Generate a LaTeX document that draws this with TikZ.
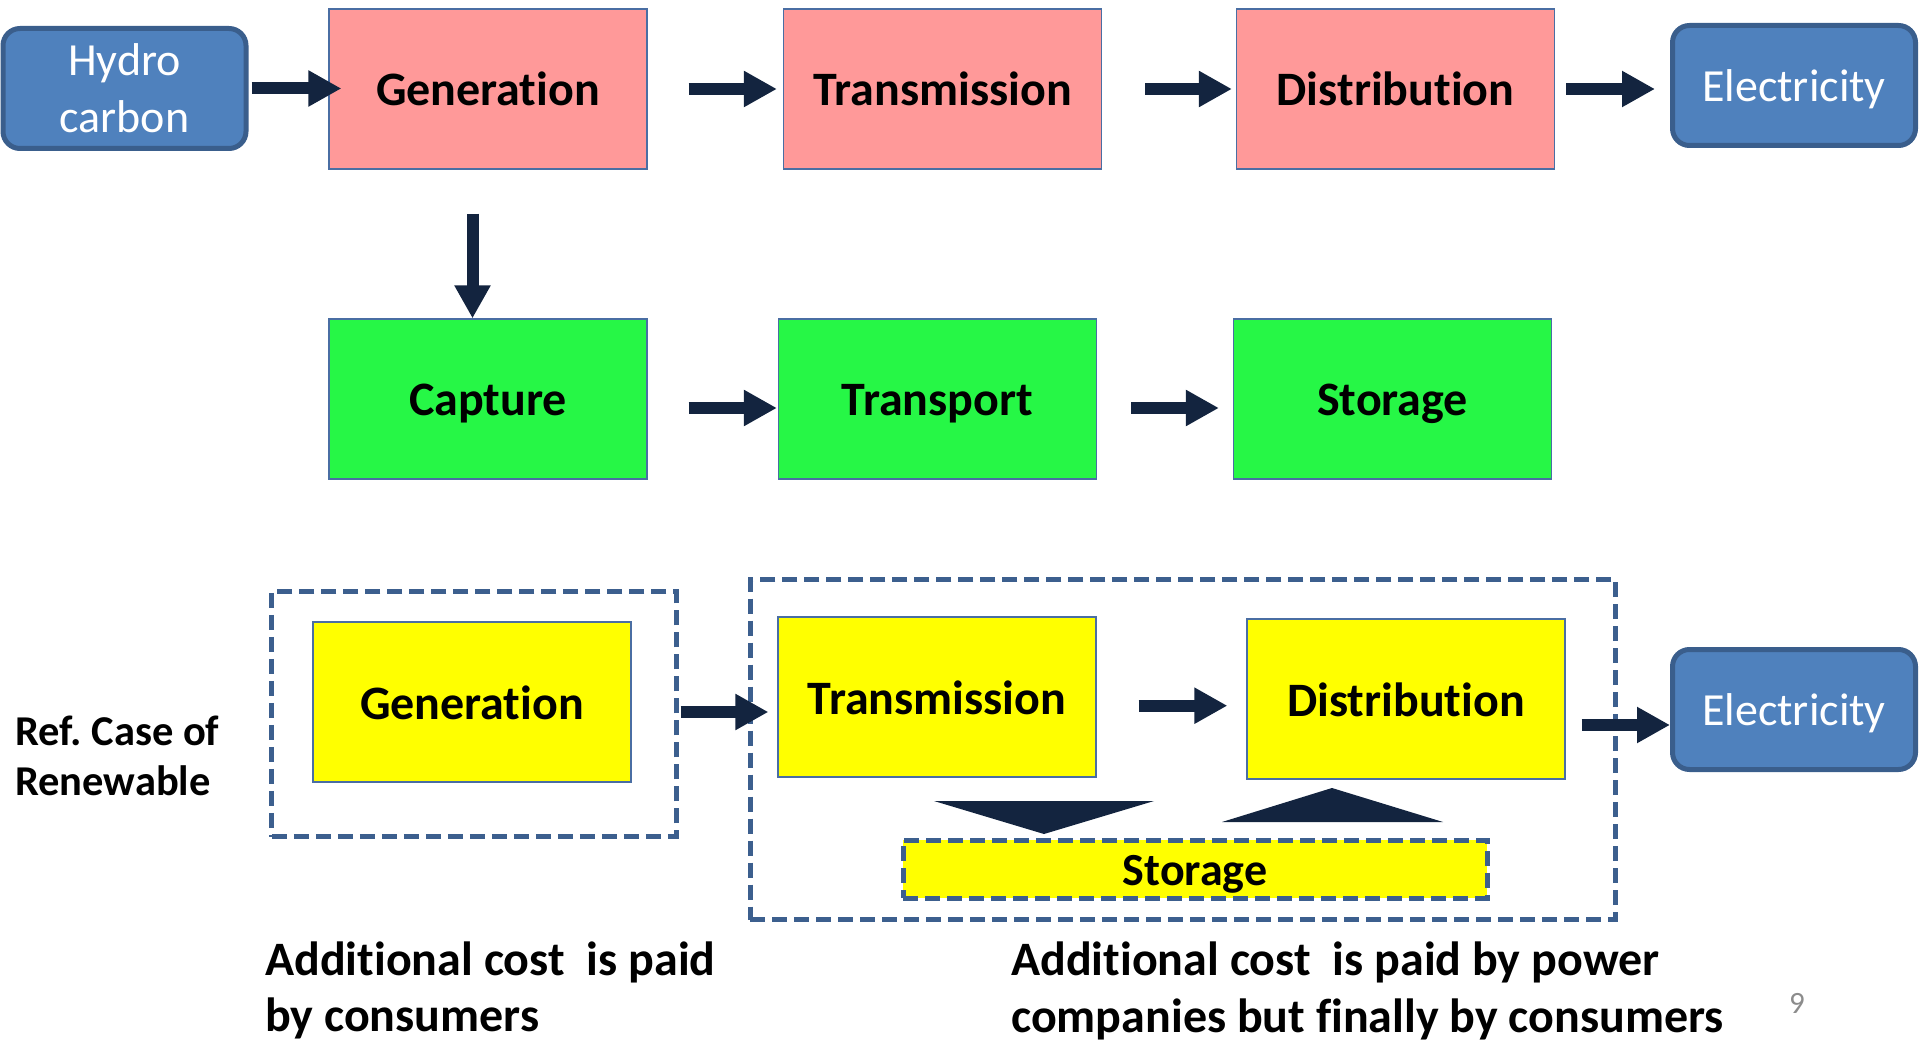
\documentclass[tikz,border=0pt]{standalone}
\usepackage{fontspec}
\setmainfont{Carlito}[Ligatures=NoCommon]
\usetikzlibrary{arrows.meta}
\definecolor{navy}{HTML}{13243F}
\definecolor{pinkf}{HTML}{FF9999}
\definecolor{greenf}{HTML}{26F746}
\definecolor{yel}{HTML}{FFFF00}
\definecolor{bluef}{HTML}{4F81BD}
\definecolor{blued}{HTML}{3A5E8C}
\definecolor{edgeblue}{HTML}{4A6EA3}
\definecolor{dashblue}{HTML}{3C5F8E}
\definecolor{pagegray}{HTML}{8C8C8C}
\frenchspacing
\begin{document}
\begin{tikzpicture}[x=1pt,y=-1pt,
  stage/.style={draw=edgeblue, line width=1.2pt, minimum width=318pt, minimum height=160pt, inner sep=0pt, text height=46pt, text depth=12pt, font=\fontsize{48}{58}\selectfont\bfseries},
  endbox/.style={draw=blued, fill=bluef, line width=5pt, rounded corners=17pt, text=white, minimum width=243pt, minimum height=120pt, inner sep=0pt, align=center, font=\fontsize{46}{57}\selectfont},
  elecbox/.style={endbox, text height=45pt, text depth=13pt},
  blk/.style={draw=navy, line width=12pt, -{Triangle[length=33pt,width=34pt]}},
  grp/.style={draw=dashblue, line width=5pt, dash pattern=on 15pt off 7pt, inner sep=0pt},
  lbl/.style={anchor=base west, inner sep=0pt, font=\fontsize{48}{58}\selectfont\bfseries},
  side/.style={anchor=base west, inner sep=0pt, font=\fontsize{42.5}{52}\selectfont\bfseries}]
\useasboundingbox (0,0) rectangle (1920,1040);

% top row
\node[endbox] (hc) at (124.5,88.5) {Hydro\\carbon};
\node[stage, fill=pinkf] (g1) at (488,89) {Generation};
\node[stage, fill=pinkf] (t1) at (942.5,89) {Transmission};
\node[stage, fill=pinkf] (d1) at (1395.5,89) {Distribution};
\node[elecbox] (e1) at (1794,85.5) {Electricity};

% second row
\node[stage, fill=greenf] (c2) at (488,399) {Capture};
\node[stage, fill=greenf] (t2) at (937.5,399) {Transport};
\node[stage, fill=greenf] (s2) at (1392.5,399) {Storage};

% third row groups
\node[grp, minimum width=404.5pt, minimum height=245.5pt] (grp1) at (474,714) {};
\node[grp, minimum width=865.5pt, minimum height=340pt] (grp2) at (1183,749.5) {};

\node[stage, fill=yel] (g3) at (472,702) {Generation};
\node[stage, fill=yel] (t3) at (937,697) {Transmission};
\node[stage, fill=yel] (d3) at (1406,699) {Distribution};
\node[elecbox] (e3) at (1794,709.5) {Electricity};
\node[grp, fill=yel, minimum width=584pt, minimum height=58pt, text height=44pt, text depth=12pt, font=\fontsize{46}{56}\selectfont\bfseries] (sb) at (1195,869) {Storage};

% storage triangles
\fill[navy] (934,801) -- (1154,801) -- (1044,834) -- cycle;
\fill[navy] (1222,822) -- (1443,822) -- (1332,788) -- cycle;

% arrows row 1
\draw[blk] ([xshift=3pt]hc.east) -- ([xshift=13pt]hc.east -| g1.west);
\draw[blk] ([xshift=41pt]g1.east) -- ([xshift=-6pt]t1.west);
\draw[blk] ([xshift=43pt]t1.east) -- ([xshift=-4pt]d1.west);
\draw[blk] ([xshift=11pt]d1.east) -- ([xshift=-15pt]d1.east -| e1.west);
\draw[blk] ([xshift=-15.5pt,yshift=-44pt]g1.south) -- ([xshift=-15.5pt]c2.north);

% arrows row 2
\draw[blk] ([xshift=41pt,yshift=-9pt]c2.east) -- ([xshift=-1pt,yshift=-9pt]t2.west);
\draw[blk] ([xshift=34pt,yshift=-9pt]t2.east) -- ([xshift=-14pt,yshift=-9pt]s2.west);

% arrows row 3
\draw[blk] ([xshift=49pt,yshift=-10pt]g3.east) -- ([xshift=-9pt,yshift=-10pt]g3.east -| t3.west);
\draw[blk] ([xshift=42pt,yshift=-8.7pt]t3.east) -- ([xshift=-19pt,yshift=-8.7pt]t3.east -| d3.west);
\draw[blk] ([xshift=16pt,yshift=-26pt]d3.east) -- ([yshift=-26pt]d3.east -| e3.west);

% free text
\node[side] (rc1) at (15,745) {Ref. Case of};
\node[side] (rc2) at (15,795) {Renewable};
\node[lbl] (ac1) at (265,975) {Additional cost~ is paid};
\node[lbl] (ac2) at (265,1031) {by consumers};
\node[lbl] (ap1) at (1011,975) {Additional cost~ is paid by power};
\node[lbl] (ap2) at (1011,1032) {companies but finally by consumers};
\node[anchor=base west, inner sep=0pt, text=pagegray, font=\fontsize{31}{37}\selectfont] (pg) at (1789,1013) {9};
\end{tikzpicture}
\end{document}
